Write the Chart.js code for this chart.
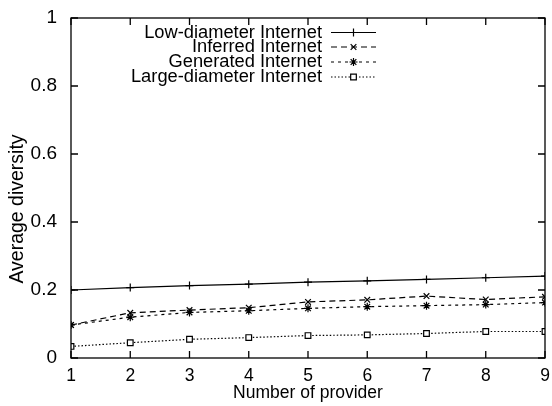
<html>
  <head>
    <script src="https://cdn.jsdelivr.net/npm/chart.js@4/dist/chart.umd.min.js"></script>
    <style>
      body { margin: 0; background: #fff; }
    </style>
  </head>
  <body>
    <div style="width:552px;height:406px"><canvas id="diversityChart" width="552" height="406"></canvas></div>
    <script>
      let providers = [1, 2, 3, 4, 5, 6, 7, 8, 9];
      let yTicks = [0, 0.2, 0.4, 0.6, 0.8, 1];
      let seriesNames = ["Low-diameter Internet", "Inferred Internet", "Generated Internet", "Large-diameter Internet"];
      let lowDiameter = [0.200, 0.207, 0.213, 0.217, 0.223, 0.227, 0.231, 0.236, 0.241];
      let inferred = [0.097, 0.133, 0.141, 0.148, 0.165, 0.171, 0.182, 0.172, 0.180];
      let generated = [0.097, 0.120, 0.134, 0.139, 0.146, 0.151, 0.154, 0.157, 0.163];
      let largeDiameter = [0.034, 0.045, 0.055, 0.060, 0.066, 0.068, 0.072, 0.078, 0.078];

      const FONT = "'Liberation Sans', Arial, sans-serif";

      function toPoints(vals) {
        return vals.map(function(v, i) { return { x: providers[i], y: v }; });
      }

      function series(label, vals, dash, style) {
        return {
          label: label,
          data: toPoints(vals),
          borderColor: '#000',
          borderWidth: 1.2,
          borderDash: dash,
          pointStyle: style,
          pointRadius: 4,
          pointBorderWidth: 1.2,
          pointBorderColor: '#000',
          pointBackgroundColor: '#fff',
          fill: false,
          tension: 0
        };
      }

      // gnuplot-like frame: box border with inward tick marks on all four sides
      const framePlugin = {
        id: 'frame',
        afterDraw(chart) {
          const ctx = chart.ctx;
          const a = chart.chartArea;
          const xs = chart.scales.x, ys = chart.scales.y;
          const t = 7;
          ctx.save();
          ctx.strokeStyle = '#000';
          ctx.lineWidth = 1.3;
          ctx.strokeRect(a.left, a.top, a.right - a.left, a.bottom - a.top);
          ctx.beginPath();
          providers.forEach(function(p) {
            const px = xs.getPixelForValue(p);
            ctx.moveTo(px, a.bottom); ctx.lineTo(px, a.bottom - t);
            ctx.moveTo(px, a.top); ctx.lineTo(px, a.top + t);
          });
          yTicks.forEach(function(v) {
            const py = ys.getPixelForValue(v);
            ctx.moveTo(a.left, py); ctx.lineTo(a.left + t, py);
            ctx.moveTo(a.right, py); ctx.lineTo(a.right - t, py);
          });
          ctx.stroke();

          // y axis title, placed a bit below the axis middle like the original
          ctx.translate(18, 209);
          ctx.rotate(-Math.PI / 2);
          ctx.font = '19.5px ' + FONT;
          ctx.fillStyle = '#000';
          ctx.textAlign = 'center';
          ctx.textBaseline = 'middle';
          ctx.fillText('Average diversity', 0, 0);
          ctx.restore();
        }
      };

      // key in the top area: text right-aligned, line sample to its right
      const keyPlugin = {
        id: 'key',
        afterDraw(chart) {
          const ctx = chart.ctx;
          const textRight = 322, sx0 = 331, sx1 = 376;
          const rowY = [32.5, 47, 62, 77];
          ctx.save();
          ctx.font = '18.3px ' + FONT;
          ctx.textAlign = 'right';
          ctx.textBaseline = 'middle';
          chart.data.datasets.forEach(function(ds, i) {
            const y = rowY[i];
            ctx.fillStyle = '#000';
            ctx.fillText(ds.label, textRight, y);
            ctx.beginPath();
            ctx.setLineDash(ds.borderDash || []);
            ctx.lineWidth = ds.borderWidth;
            ctx.strokeStyle = '#000';
            ctx.moveTo(sx0, y); ctx.lineTo(sx1, y);
            ctx.stroke();
            ctx.setLineDash([]);
            ctx.fillStyle = '#fff';
            Chart.helpers.drawPoint(ctx, {
              pointStyle: ds.pointStyle,
              radius: ds.pointRadius,
              borderWidth: ds.pointBorderWidth,
              rotation: 0
            }, (sx0 + sx1) / 2, y);
          });
          ctx.restore();
        }
      };

      window.onload = function() {
        new Chart(document.getElementById('diversityChart'), {
          type: 'line',
          data: {
            datasets: [
              series(seriesNames[0], lowDiameter, [], 'cross'),
              series(seriesNames[1], inferred, [6, 4], 'crossRot'),
              series(seriesNames[2], generated, [3, 4], 'star'),
              series(seriesNames[3], largeDiameter, [1.5, 2], 'rect')
            ]
          },
          options: {
            responsive: false,
            animation: false,
            layout: { padding: { top: 18, right: 7, left: 0, bottom: 0 } },
            plugins: {
              legend: { display: false },
              tooltip: { enabled: false }
            },
            scales: {
              x: {
                type: 'linear',
                min: 1,
                max: 9,
                afterFit(s) { s.height = 48; },
                afterBuildTicks(s) { s.ticks = providers.map(function(v) { return { value: v }; }); },
                grid: { display: false },
                border: { display: false },
                ticks: { color: '#000', font: { size: 17.5, family: FONT }, padding: 0, maxRotation: 0 },
                title: { display: true, text: 'Number of provider', color: '#000', font: { size: 17.5, family: FONT }, padding: { top: 0, bottom: 2 } }
              },
              y: {
                min: 0,
                max: 1,
                afterFit(s) { s.width = 71; },
                afterBuildTicks(s) { s.ticks = yTicks.map(function(v) { return { value: v }; }); },
                grid: { display: false },
                border: { display: false },
                ticks: {
                  color: '#000',
                  font: { size: 19, family: FONT },
                  padding: 6,
                  callback: function(v) { return String(v); }
                },
                title: { display: false }
              }
            }
          },
          plugins: [framePlugin, keyPlugin]
        });
      };
    </script>
  </body>
</html>
